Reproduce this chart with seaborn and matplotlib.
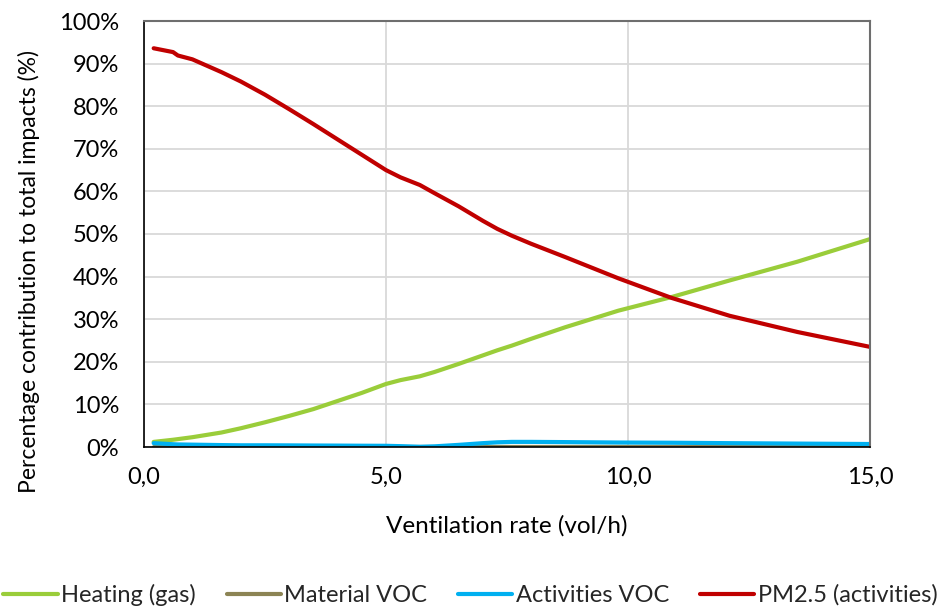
import matplotlib
matplotlib.use("Agg")
import matplotlib.pyplot as plt
import seaborn as sns
import pandas as pd
from matplotlib.ticker import FuncFormatter

# ---- data ----
vent_rate = [0.2, 0.6, 0.7, 1.0, 1.6, 2.0, 2.5, 3.0, 3.5, 4.0, 4.5, 5.0, 5.3, 5.7,
             6.0, 6.5, 7.0, 7.3, 7.6, 8.0, 8.7, 9.8, 10.9, 12.1, 13.5, 15.0]
heating_gas = [1.2, 1.7, 1.85, 2.3, 3.4, 4.4, 5.8, 7.3, 8.9, 10.8, 12.7, 14.8, 15.7, 16.6,
               17.6, 19.5, 21.5, 22.7, 23.8, 25.4, 28.1, 32.0, 35.2, 39.1, 43.5, 48.8]
material_voc = [0.0] * len(vent_rate)
activities_voc = [0.9, 0.65, 0.6, 0.55, 0.45, 0.4, 0.4, 0.38, 0.35, 0.33, 0.3, 0.28, 0.2, 0.05,
                  0.15, 0.5, 0.9, 1.1, 1.2, 1.2, 1.15, 1.05, 1.0, 0.9, 0.8, 0.7]
pm25_activities = [93.6, 92.7, 91.9, 91.0, 88.0, 85.8, 82.7, 79.3, 75.8, 72.2, 68.6, 65.0, 63.3, 61.5,
                   59.6, 56.5, 53.1, 51.2, 49.6, 47.7, 44.6, 39.6, 35.0, 30.8, 27.0, 23.5]

series_names = ["Heating (gas)", "Material VOC", "Activities VOC", "PM2.5 (activities)"]
series_values = [heating_gas, material_voc, activities_voc, pm25_activities]
colors = ["#9ACD3A", "#8C8454", "#00B0F0", "#C00000"]

x_ticks = [0, 5, 10, 15]
y_ticks = [0, 10, 20, 30, 40, 50, 60, 70, 80, 90, 100]

rows = []
for name, vals in zip(series_names, series_values):
    for xv, yv in zip(vent_rate, vals):
        rows.append({"rate": xv, "value": yv, "series": name})
df = pd.DataFrame(rows)

sns.set_theme(style="white")
plt.rcParams["font.family"] = ["Lato", "DejaVu Sans"]

fig = plt.figure(figsize=(9.41, 6.10), dpi=100)
ax = fig.add_axes([144 / 941, 1 - 447 / 610, (870 - 144) / 941, (447 - 21) / 610])

sns.lineplot(data=df, x="rate", y="value", hue="series", hue_order=series_names,
             palette=colors, linewidth=3.0, ax=ax, legend=True, sort=True,
             solid_capstyle="round", solid_joinstyle="round")

ax.set_xlim(0, 15)
ax.set_ylim(0, 100)
ax.set_xticks(x_ticks)
ax.set_yticks(y_ticks)
ax.xaxis.set_major_formatter(FuncFormatter(lambda v, p: f"{v:.1f}".replace(".", ",")))
ax.yaxis.set_major_formatter(FuncFormatter(lambda v, p: f"{v:.0f}%"))
ax.grid(True, color="#D9D9D9", linewidth=1.3)
ax.set_axisbelow(True)
ax.tick_params(axis="both", length=0, labelsize=17, colors="black")
ax.tick_params(axis="y", pad=18)
ax.tick_params(axis="x", pad=14)

for side in ["left", "bottom"]:
    ax.spines[side].set_color("black")
    ax.spines[side].set_linewidth(1.2)
for side in ["top", "right"]:
    ax.spines[side].set_color("#6E6E6E")
    ax.spines[side].set_linewidth(1.5)

ax.set_xlabel("Ventilation rate (vol/h)", fontsize=17.5, color="black")
ax.set_ylabel("Percentage contribution to total impacts (%)", fontsize=16.5, color="black")
ax.xaxis.set_label_coords(0.5, -0.16)
ax.yaxis.set_label_coords(-0.143, 0.413)

handles, labels = ax.get_legend_handles_labels()
ax.get_legend().remove()
fig.legend(handles, labels, loc="center", bbox_to_anchor=(0.5, 1 - 595 / 610), ncol=4,
           frameon=False, fontsize=17, handlelength=2.3, handletextpad=0.15,
           columnspacing=1.3, borderpad=0.2, borderaxespad=0.1)

fig.savefig("out.png", dpi=100)
